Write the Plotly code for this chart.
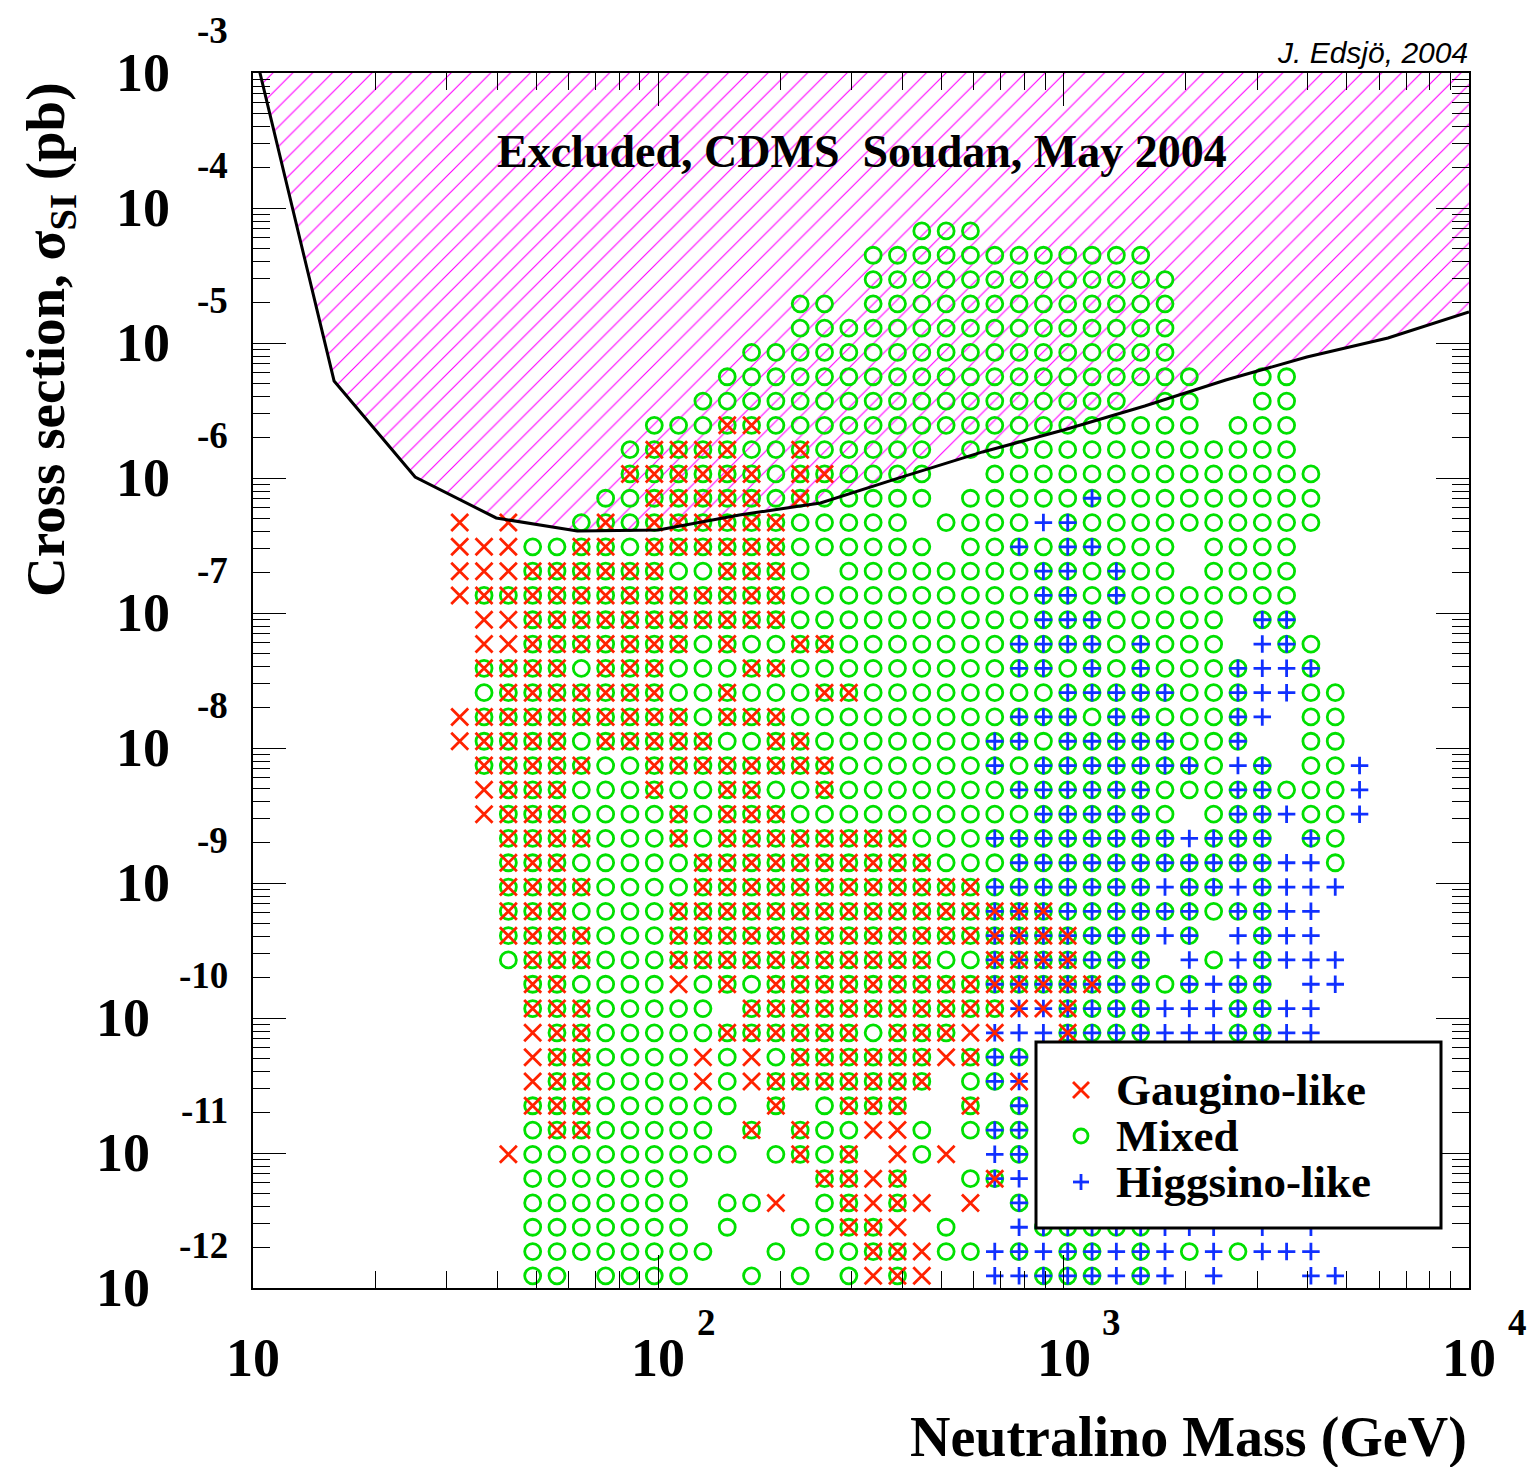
import plotly.graph_objects as go

# ---------------------------------------------------------------------------
# Scan grid: log10(mass / GeV) in bins of 0.06 starting at 1.0,
#            log10(sigma_SI / pb) in bins of 0.18 starting at -12.0.
# Each map below lists the occupied bins, top row (row 43) first,
# columns 8..45 from left to right.
# ---------------------------------------------------------------------------
LOGM_START, LOGM_STEP, FIRST_COL = 1.0, 0.06, 8
LOGS_START, LOGS_STEP, TOP_ROW = -12.0, 0.18, 43

GAUGINO = [
    "......................................",  # 43
    "......................................",  # 42
    "......................................",  # 41
    "......................................",  # 40
    "......................................",  # 39
    "......................................",  # 38
    "......................................",  # 37
    "......................................",  # 36
    ".........." + ".xx......." + ".........." + "........",  # 35
    "........xx" + "xx..x....." + ".........." + "........",  # 34
    ".......xxx" + "xxx.xx...." + ".........." + "........",  # 33
    "........xx" + "xxx.x....." + ".........." + "........",  # 32
    "x.x...x.xx" + "xxxx......" + ".........." + "........",  # 31
    "xxx..xx.xx" + "xxxx......" + ".........." + "........",  # 30
    "xxxxxxxxx." + ".xxx......" + ".........." + "........",  # 29
    "xxxxxxxxxx" + "xxxx......" + ".........." + "........",  # 28
    ".xxxxxxxxx" + "xxxx......" + ".........." + "........",  # 27
    ".xxxxxxxxx" + ".x..xx...." + ".........." + "........",  # 26
    ".xxxx.xxx." + "..xx......" + ".........." + "........",  # 25
    "..xxxxxxx." + ".x...xx..." + ".........." + "........",  # 24
    "xxxxxxxxxx" + ".xxx......" + ".........." + "........",  # 23
    "xxxxx.xxxx" + "x..xx....." + ".........." + "........",  # 22
    ".xxxxx..xx" + "xxxxxx...." + ".........." + "........",  # 21
    ".xxxx...x." + ".xx..x...." + ".........." + "........",  # 20
    ".xxxx....x" + ".xxx......" + ".........." + "........",  # 19
    "..xxxx...x" + ".xxxxxxxx." + ".........." + "........",  # 18
    "..xxx....." + "xxxxxxxxxx" + ".........." + "........",  # 17
    "..xxxx...." + "xxxxxxxxxx" + "xx........" + "........",  # 16
    "..xxx....x" + "xxxxxxxxxx" + "xxxxx....." + "........",  # 15
    "..xxxx...x" + "xxxxxxxxxx" + "xxxxxx...." + "........",  # 14
    "...xxx...x" + "xxxxxxxxxx" + "..xxxx...." + "........",  # 13
    "...xx....x" + ".x.xxxxxxx" + "xxxxxxx..." + "........",  # 12
    "...xxx...." + "..xxxxxxxx" + "xxxxxx...." + "........",  # 11
    "...xxx...." + ".xxxxxx.xx" + "xxx..x...." + "........",  # 10
    "...xxx...." + "x.x.xxxxxx" + "xx........" + "........",  # 9
    "...xxx...." + "x.xxxxxxxx" + "...x......" + "........",  # 8
    "...xxx...." + "...x..xxx." + ".x........" + "........",  # 7
    "....xx...." + "..x.x..xx." + ".........." + "........",  # 6
    "..x......." + "....x.x.x." + "x........." + "........",  # 5
    ".........." + ".....xxxx." + "..x......." + "........",  # 4
    ".........." + "...x..xxxx" + ".x........" + "........",  # 3
    ".........." + "......xxx." + ".........." + "........",  # 2
    ".........." + ".......xxx" + ".........." + "........",  # 1
    ".........." + ".......xxx" + ".........." + "........",  # 0
]

MIXED = [
    ".........." + ".........o" + "oo........" + "........",  # 43
    ".........." + ".......ooo" + "ooooooooo." + "........",  # 42
    ".........." + ".......ooo" + "oooooooooo" + "........",  # 41
    ".........." + "....oo.ooo" + "oooooooooo" + "........",  # 40
    ".........." + "....oooooo" + "oooooooooo" + "........",  # 39
    ".........." + "..oooooooo" + "oooooooooo" + "........",  # 38
    ".........." + ".ooooooooo" + "oooooooooo" + "o..oo...",  # 37
    ".........." + "oooooooooo" + "oooooooo.o" + "o..oo...",  # 36
    "........oo" + "oooooooooo" + "oooooooooo" + "o.ooo...",  # 35
    ".......ooo" + "oooooooooo" + ".ooooooooo" + "ooooo...",  # 34
    ".......ooo" + "oooooooooo" + "..oooooooo" + "oooooo..",  # 33
    "......oooo" + "oooooooooo" + ".ooooooooo" + "oooooo..",  # 32
    ".....ooooo" + "ooooooooo." + "oooo.ooooo" + "oooooo..",  # 31
    "...ooooooo" + "oooooooooo" + ".ooooooooo" + ".oooo...",  # 30
    "...ooooooo" + "ooooo.oooo" + "oooooooooo" + ".oooo...",  # 29
    ".ooooooooo" + "oooooooooo" + "oooooooooo" + "ooooo...",  # 28
    "...ooooooo" + "oooooooooo" + "oooooooooo" + "oo.oo...",  # 27
    "...ooooooo" + "oooooooooo" + "oooooooooo" + "oo..oo..",  # 26
    ".ooooooooo" + "oooooooooo" + "oooooooooo" + "ooo..o..",  # 25
    ".ooooooooo" + "oooooooooo" + "oooooooooo" + "ooo..oo.",  # 24
    ".ooooooooo" + "oooooooooo" + "oooooooooo" + "ooo..oo.",  # 23
    ".ooooooooo" + "oooooooooo" + "oooooooooo" + "ooo..oo.",  # 22
    ".ooooooooo" + "oooooooooo" + "oooooooooo" + "oo.o.oo.",  # 21
    "..oooooooo" + "oooooooooo" + "oooooooooo" + "ooooooo.",  # 20
    "..oooooooo" + "oooooooooo" + "oooooooooo" + ".ooo.oo.",  # 19
    "..oooooooo" + "oooooooooo" + "oooooooooo" + ".ooo.oo.",  # 18
    "..oooooooo" + "oooooooooo" + "oooooooooo" + "oooo..o.",  # 17
    "..oooooooo" + "oooooooooo" + "ooooooooo." + "oo.o....",  # 16
    "..oooooooo" + "oooooooooo" + "oooooooooo" + "oooo....",  # 15
    "..oooooooo" + "oooooooooo" + "ooooooooo." + "o..o....",  # 14
    "..oooooooo" + "oooooooooo" + "ooooooooo." + ".o.o....",  # 13
    "...oooooo." + "oooooooooo" + "oooooooooo" + "o.oo....",  # 12
    "...ooooooo" + "o.oooooooo" + "ooo..oooo." + "..oo....",  # 11
    "....oooooo" + "oooooooooo" + "o....oooo." + "..oo....",  # 10
    "....oooooo" + ".o.ooooooo" + ".ooo......" + "........",  # 9
    "....oooooo" + ".o.ooooooo" + ".oo......." + "........",  # 8
    "...ooooooo" + "oo.o.oooo." + ".o.o......" + "........",  # 7
    "...ooooooo" + "o.o.ooo..o" + ".ooo......" + "........",  # 6
    "...ooooooo" + "oo.oooo..o" + "...o......" + "........",  # 5
    "...ooooooo" + ".....oo.o." + ".oo......." + "........",  # 4
    "...ooooooo" + ".oo..oo.o." + "...o......" + "........",  # 3
    "...ooooooo" + ".o..oooo.." + "o...ooooo." + "........",  # 2
    "...ooooooo" + "o..o.oooo." + "oo.o.oo.o." + "o.o.....",  # 1
    "...oo.oooo" + "..o.o.o.o." + "....ooo.o." + "........",  # 0
]

HIGGSINO = [
    "......................................",  # 43
    "......................................",  # 42
    "......................................",  # 41
    "......................................",  # 40
    "......................................",  # 39
    "......................................",  # 38
    "......................................",  # 37
    "......................................",  # 36
    "......................................",  # 35
    "......................................",  # 34
    "......................................",  # 33
    ".........." + ".........." + "......+..." + "........",  # 32
    ".........." + ".........." + "....++...." + "........",  # 31
    ".........." + ".........." + "...+.++..." + "........",  # 30
    ".........." + ".........." + "....++.+.." + "........",  # 29
    ".........." + ".........." + "....++.+.." + "........",  # 28
    ".........." + ".........." + "....+++..." + "...++...",  # 27
    ".........." + ".........." + "...++++.+." + "...++...",  # 26
    ".........." + ".........." + "...++.+.+." + "..++++..",  # 25
    ".........." + ".........." + ".....+++++" + "..+++...",  # 24
    ".........." + ".........." + "...+++.++." + "..++....",  # 23
    ".........." + ".........." + "..++.+++++" + "..+.....",  # 22
    ".........." + ".........." + "..+.++++++" + "+.++...+",  # 21
    ".........." + ".........." + "...++++++." + "..++...+",  # 20
    ".........." + ".........." + "....+++++." + "..+++..+",  # 19
    ".........." + ".........." + "..++++++++" + "++++.+..",  # 18
    ".........." + ".........." + "...+++++++" + "++++++..",  # 17
    ".........." + ".........." + "..++++++++" + "+++++++.",  # 16
    ".........." + ".........." + "..++++++++" + "+.++++..",  # 15
    ".........." + ".........." + "..++++++++" + "+.++++..",  # 14
    ".........." + ".........." + "..+++++++." + "+.+++++.",  # 13
    ".........." + ".........." + "..+++++++." + "++++.++.",  # 12
    ".........." + ".........." + "...+++++++" + "++++++..",  # 11
    ".........." + ".........." + "..++++++++" + "++++++..",  # 10
    ".........." + ".........." + "..++......" + "........",  # 9
    ".........." + ".........." + "..++......" + "........",  # 8
    ".........." + ".........." + "...+......" + "........",  # 7
    ".........." + ".........." + "..++......" + "........",  # 6
    ".........." + ".........." + "..++......" + "........",  # 5
    ".........." + ".........." + "..++......" + "........",  # 4
    ".........." + ".........." + "...+......" + "........",  # 3
    ".........." + ".........." + "...+++++++" + "++.+.+..",  # 2
    ".........." + ".........." + "..++++++++" + ".+.+++..",  # 1
    ".........." + ".........." + "..++++++++" + ".+...++.",  # 0
]

# CDMS Soudan (May 2004) spin-independent exclusion limit
CDMS_MASS = [10.0, 15.85, 25.12, 39.81, 63.10, 100.0, 158.5, 251.2, 398.1,
             631.0, 1000.0, 1585.0, 2512.0, 3981.0, 6310.0, 10000.0]
CDMS_SIGMA = [1.641e-3, 5.236e-6, 1.016e-6, 5.058e-7, 4.046e-7, 4.121e-7,
              5.321e-7, 6.531e-7, 1.016e-6, 1.560e-6, 2.270e-6, 3.412e-6,
              5.321e-6, 7.870e-6, 1.089e-5, 1.698e-5]

X_DECADES = [1, 2, 3, 4]
Y_DECADES = [-3, -4, -5, -6, -7, -8, -9, -10, -11, -12]

SERIES = [
    ("Gaugino-like", GAUGINO, "x"),
    ("Mixed", MIXED, "o"),
    ("Higgsino-like", HIGGSINO, "+"),
]

RED, GREEN, BLUE, MAGENTA = "#ff2200", "#00e000", "#1030ff", "#ff00ff"
SERIF = "Liberation Serif"

# figure / plot-area geometry in pixels
W, H = 1534, 1467
PL, PR, PT, PB = 253, 1469, 73, 1288


def px_x(px):
    return (px - PL) / (PR - PL)


def px_y(py):
    return (PB - py) / (PB - PT)


def occupied(rows, mark):
    mass, sigma = [], []
    for r, line in enumerate(rows):
        j = TOP_ROW - r
        for k, ch in enumerate(line):
            if ch == mark:
                i = FIRST_COL + k
                mass.append(10 ** (LOGM_START + LOGM_STEP * (i + 0.5)))
                sigma.append(10 ** (LOGS_START + LOGS_STEP * (j + 0.5)))
    return mass, sigma


fig = go.Figure()

# hatched excluded region above the limit curve
fig.add_trace(go.Scatter(
    x=CDMS_MASS + [CDMS_MASS[-1], CDMS_MASS[0]],
    y=CDMS_SIGMA + [1.0, 1.0],
    fill="toself", mode="none", fillcolor="rgba(0,0,0,0)",
    fillpattern=dict(shape="/", fgcolor=MAGENTA, fgopacity=1.0,
                     bgcolor="rgba(0,0,0,0)", size=14, solidity=0.08),
    showlegend=False, hoverinfo="skip"))

MARK_W = 2.8

mixed_m, mixed_s = occupied(MIXED, "o")
fig.add_trace(go.Scatter(
    x=mixed_m, y=mixed_s, mode="markers", name="Mixed", showlegend=False,
    marker=dict(symbol="circle-open", size=16, color=GREEN,
                line=dict(color=GREEN, width=MARK_W))))

hig_m, hig_s = occupied(HIGGSINO, "+")
fig.add_trace(go.Scatter(
    x=hig_m, y=hig_s, mode="markers", name="Higgsino-like", showlegend=False,
    marker=dict(symbol="cross-thin", size=12.5, color=BLUE,
                line=dict(color=BLUE, width=MARK_W))))

gau_m, gau_s = occupied(GAUGINO, "x")
fig.add_trace(go.Scatter(
    x=gau_m, y=gau_s, mode="markers", name="Gaugino-like", showlegend=False,
    marker=dict(symbol="x-thin", size=17, color=RED,
                line=dict(color=RED, width=MARK_W))))

# limit curve on top
fig.add_trace(go.Scatter(
    x=CDMS_MASS, y=CDMS_SIGMA, mode="lines", showlegend=False,
    line=dict(color="black", width=3), hoverinfo="skip"))

axis_common = dict(
    type="log", showline=True, linecolor="black", linewidth=2, mirror="allticks",
    ticks="inside", ticklen=33, tickwidth=1, tickcolor="black", dtick=1,
    showticklabels=False, showgrid=False, zeroline=False,
    minor=dict(ticks="inside", ticklen=17, tickwidth=1, tickcolor="black",
               dtick="D1", showgrid=False),
)
fig.update_xaxes(range=[1, 4], **axis_common)
fig.update_yaxes(range=[-12, -3], **axis_common)

ann = []
big = dict(family=SERIF, size=54, color="black")
small = dict(family=SERIF, size=37, color="black")

# x tick labels: 10, 10^2, 10^3, 10^4
for e in X_DECADES:
    ann.append(dict(xref="x", yref="paper", x=e, y=0, yshift=-70,
                    text="<b>10</b>", showarrow=False, font=big,
                    xanchor="center", yanchor="middle"))
    if e != 1:
        ann.append(dict(xref="x", yref="paper", x=e, y=0, xshift=48, yshift=-34,
                        text="<b>%d</b>" % e, showarrow=False, font=small,
                        xanchor="center", yanchor="middle"))

# y tick labels: 10^-3 ... 10^-12
for e in Y_DECADES:
    exp_txt = "%d" % e
    ann.append(dict(xref="paper", yref="y", x=0, y=e, xshift=-23, yshift=43,
                    text="<b>%s</b>" % exp_txt, showarrow=False, font=small,
                    xanchor="right", yanchor="middle"))
    ann.append(dict(xref="paper", yref="y", x=0, y=e,
                    xshift=-81 if len(exp_txt) == 2 else -101,
                    text="<b>10</b>", showarrow=False, font=big,
                    xanchor="right", yanchor="middle"))

# axis titles
ann.append(dict(xref="paper", yref="paper", x=px_x(1469), y=px_y(1437),
                text="<b>Neutralino Mass (GeV)</b>", showarrow=False,
                font=dict(family=SERIF, size=56, color="black"),
                xanchor="right", yanchor="middle"))
ann.append(dict(xref="paper", yref="paper", x=px_x(49), y=px_y(340),
                text="<b>Cross section, σ<sub>SI</sub> (pb)</b>", showarrow=False,
                textangle=-90, font=dict(family=SERIF, size=55, color="black"),
                xanchor="center", yanchor="middle"))

# in-plot labels
ann.append(dict(xref="paper", yref="paper", x=px_x(862), y=px_y(152),
                text="<b>Excluded, CDMS\u00a0\u00a0Soudan, May 2004</b>",
                showarrow=False, font=dict(family=SERIF, size=46, color="black"),
                xanchor="center", yanchor="middle"))
ann.append(dict(xref="paper", yref="paper", x=px_x(1470), y=px_y(52),
                text="<i>J. Edsjö, 2004</i>", showarrow=False,
                font=dict(family="Liberation Sans", size=30, color="black"),
                xanchor="right", yanchor="middle"))

# legend box
shapes = [dict(type="rect", xref="paper", yref="paper",
               x0=px_x(1036), x1=px_x(1441), y0=px_y(1228), y1=px_y(1042),
               line=dict(color="black", width=3), fillcolor="white", layer="above")]
leg_x, leg_rows = 1081, [1090, 1136, 1182]
arm = 8
for (label, _, mark), ly in zip(SERIES, leg_rows):
    if mark == "x":
        shapes.append(dict(type="line", xref="paper", yref="paper",
                           x0=px_x(leg_x - arm), y0=px_y(ly - arm),
                           x1=px_x(leg_x + arm), y1=px_y(ly + arm),
                           line=dict(color=RED, width=MARK_W), layer="above"))
        shapes.append(dict(type="line", xref="paper", yref="paper",
                           x0=px_x(leg_x - arm), y0=px_y(ly + arm),
                           x1=px_x(leg_x + arm), y1=px_y(ly - arm),
                           line=dict(color=RED, width=MARK_W), layer="above"))
    elif mark == "o":
        shapes.append(dict(type="circle", xref="paper", yref="paper",
                           x0=px_x(leg_x - 7), y0=px_y(ly + 7),
                           x1=px_x(leg_x + 7), y1=px_y(ly - 7),
                           line=dict(color=GREEN, width=MARK_W), layer="above"))
    else:
        shapes.append(dict(type="line", xref="paper", yref="paper",
                           x0=px_x(leg_x - arm), y0=px_y(ly),
                           x1=px_x(leg_x + arm), y1=px_y(ly),
                           line=dict(color=BLUE, width=MARK_W), layer="above"))
        shapes.append(dict(type="line", xref="paper", yref="paper",
                           x0=px_x(leg_x), y0=px_y(ly - arm),
                           x1=px_x(leg_x), y1=px_y(ly + arm),
                           line=dict(color=BLUE, width=MARK_W), layer="above"))
    ann.append(dict(xref="paper", yref="paper", x=px_x(1114), y=px_y(ly),
                    text="<b>%s</b>" % label, showarrow=False,
                    font=dict(family=SERIF, size=45, color="black"),
                    xanchor="left", yanchor="middle"))

fig.update_layout(
    width=W, height=H, autosize=False,
    margin=dict(l=PL, r=W - PR, t=PT, b=H - PB, pad=0),
    paper_bgcolor="white", plot_bgcolor="white",
    showlegend=False, hovermode=False,
    annotations=ann, shapes=shapes,
)

fig.write_html("out.html")
